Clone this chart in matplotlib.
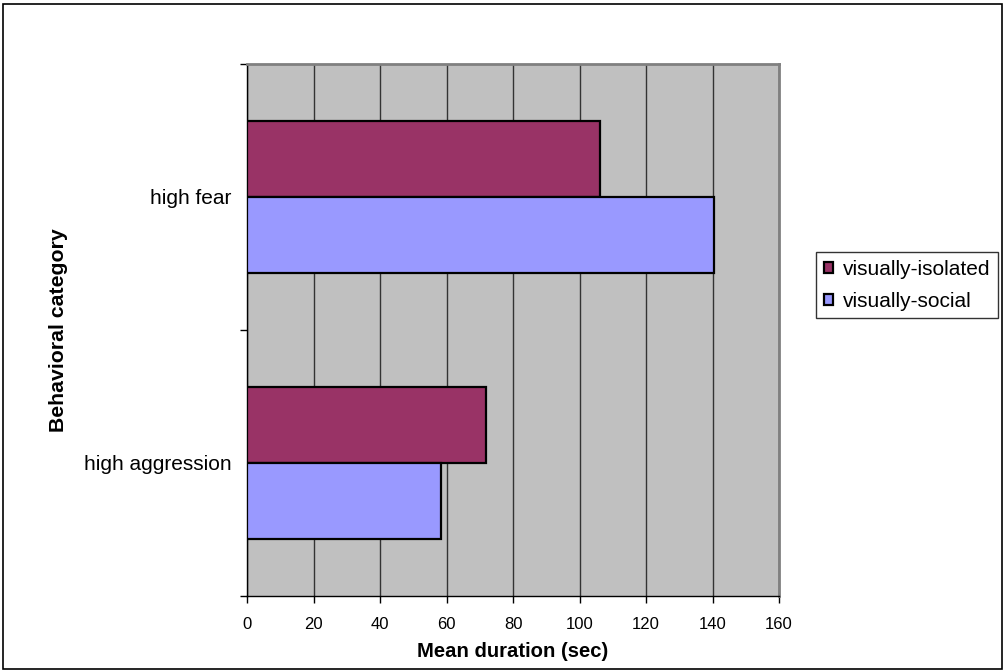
import matplotlib
matplotlib.use("Agg")
import matplotlib.pyplot as plt
from matplotlib.patches import Rectangle
import numpy as np

categories = ["high aggression", "high fear"]
series_names = ["visually-isolated", "visually-social"]
isolated = [72.0, 106.3]
social = [58.3, 140.6]
x_ticks = [0, 20, 40, 60, 80, 100, 120, 140, 160]

plt.rcParams["font.family"] = ["Liberation Sans", "DejaVu Sans"]

fig = plt.figure(figsize=(10.05, 6.71), dpi=100)
ax = fig.add_axes([247 / 1005, 1 - 596 / 671, (779 - 247) / 1005, (596 - 64) / 671])
ax.set_facecolor("#C0C0C0")

y = np.arange(len(categories))
h = 0.284
ax.barh(y + h / 2, isolated, height=h, color="#993366", edgecolor="black",
        linewidth=1.6, label=series_names[0], zorder=3)
ax.barh(y - h / 2, social, height=h, color="#9999FF", edgecolor="black",
        linewidth=1.6, label=series_names[1], zorder=3)

ax.set_xlim(0, 160)
ax.set_ylim(-0.5, 1.5)
ax.set_xticks(x_ticks)
ax.set_xticklabels([str(v) for v in x_ticks], fontsize=12)
ax.xaxis.grid(True, color="#333333", linewidth=1.0, zorder=1)
ax.set_axisbelow(True)

# category boundaries carry the tick marks, labels sit at the category centres
ax.set_yticks([-0.5, 0.5, 1.5])
ax.set_yticklabels([])
ax.set_yticks(y, minor=True)
ax.set_yticklabels(categories, minor=True, fontsize=15)
ax.tick_params(axis="y", which="minor", length=0, pad=11)
ax.tick_params(axis="y", which="major", length=5, direction="out", width=1)
ax.tick_params(axis="x", length=5, direction="out", width=1, pad=10)

for side in ("top", "right"):
    ax.spines[side].set_color("#808080")
    ax.spines[side].set_linewidth(2)
for side in ("left", "bottom"):
    ax.spines[side].set_color("black")
    ax.spines[side].set_linewidth(1)

ax.set_xlabel("Mean duration (sec)", fontsize=14.6, fontweight="bold", labelpad=7)
ax.set_ylabel("Behavioral category", fontsize=15.3, fontweight="bold")
ax.yaxis.set_label_coords(-0.336, 0.5)

leg = fig.legend(loc="upper left", bbox_to_anchor=(816 / 1005, 1 - 252 / 671),
                 fontsize=15, frameon=True, fancybox=False, handlelength=0.45,
                 handleheight=0.45, handletextpad=0.45, borderpad=0.37,
                 labelspacing=0.62, borderaxespad=0)
leg.get_frame().set_edgecolor("black")
leg.get_frame().set_linewidth(1)
for patch in leg.get_patches():
    patch.set_linewidth(1.6)

fig.patches.append(Rectangle((0.003, 0.003), 0.994, 0.991, transform=fig.transFigure,
                             fill=False, edgecolor="black", linewidth=1.2))

fig.savefig("out.png", dpi=100)
